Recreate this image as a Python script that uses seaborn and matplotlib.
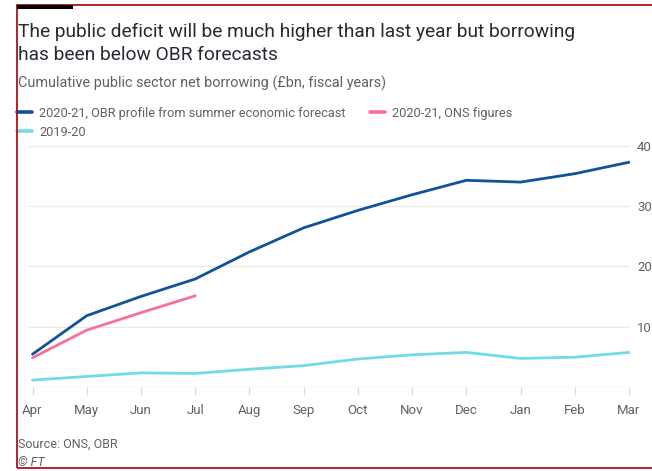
import numpy as np
import pandas as pd
import matplotlib.pyplot as plt
import seaborn as sns
from matplotlib.patches import Rectangle

# data (£bn, cumulative)
months = ["Apr", "May", "Jun", "Jul", "Aug", "Sep", "Oct", "Nov", "Dec", "Jan", "Feb", "Mar"]
obr_2020 = [5.4, 11.8, 15.0, 17.9, 22.4, 26.4, 29.3, 31.9, 34.3, 34.0, 35.4, 37.3]
ons_2020 = [4.8, 9.4, 12.3, 15.1]
fy_2019 = [1.1, 1.7, 2.3, 2.2, 2.9, 3.5, 4.6, 5.3, 5.7, 4.7, 4.9, 5.7]

yticks = [10, 20, 30, 40]

blue = "#0f5499"
pink = "#f7709a"
cyan = "#6fdbe6"
grey = "#66605c"
dark = "#262a33"

sns.set_theme(style="white")
plt.rcParams["font.family"] = ["Roboto", "DejaVu Sans"]

W, H = 652, 471
fig = plt.figure(figsize=(W / 100, H / 100), dpi=100)
fig.patch.set_facecolor("white")

# axes placed in pixels
x0, x1, y0, y1 = 28, 630, 386.7, 146
ax = fig.add_axes([x0 / W, 1 - y0 / H, (x1 - x0) / W, (y0 - y1) / H])

pos = np.arange(len(months))
df = pd.DataFrame({"pos": pos, "obr": obr_2020, "fy19": fy_2019})
df_ons = pd.DataFrame({"pos": pos[:len(ons_2020)], "ons": ons_2020})

# gridlines first so lines sit on top
for v in yticks:
    ax.axhline(v, color="#efe9e4", lw=0.9, zorder=0)
ax.axhline(0, color="#dedad6", lw=1.0, zorder=1)

sns.lineplot(data=df, x="pos", y="fy19", color=cyan, lw=2.0, ax=ax,
             label="2019-20", zorder=3)
sns.lineplot(data=df, x="pos", y="obr", color=blue, lw=2.0, ax=ax,
             label="2020-21, OBR profile from summer economic forecast", zorder=4)
sns.lineplot(data=df_ons, x="pos", y="ons", color=pink, lw=2.0, ax=ax,
             label="2020-21, ONS figures", zorder=5)

ax.set_xlim(-0.083, 11.018)
ax.set_ylim(0, 40)
for s in ax.spines.values():
    s.set_visible(False)
ax.set_xlabel("")
ax.set_ylabel("")

ax.set_xticks(pos)
ax.set_xticklabels(months)
ax.set_yticks(yticks)
ax.yaxis.tick_right()
ax.tick_params(axis="y", length=0, pad=5, labelsize=9.5, labelcolor=grey)
ax.tick_params(axis="x", bottom=True, length=6, width=0.9, color="#dedad6",
               pad=6.5, labelsize=9.5, labelcolor=grey)

# legend: OBR, 2019-20 in first column, ONS in second
h, l = ax.get_legend_handles_labels()
order = [1, 0, 2]
leg = ax.legend([h[i] for i in order], [l[i] for i in order], ncol=2,
                loc="upper left", bbox_to_anchor=(17 / W, 1 - 106.5 / H),
                bbox_transform=fig.transFigure, frameon=False, borderpad=0,
                borderaxespad=0, fontsize=9.2, handlelength=1.15,
                handletextpad=0.6, columnspacing=1.9, labelspacing=0.5)
for t in leg.get_texts():
    t.set_color(grey)
for ln in leg.get_lines():
    ln.set_linewidth(2.6)

# titles and footer
fig.text(18 / W, 1 - 37 / H, "The public deficit will be much higher than last year but borrowing",
         fontsize=13.8, color=dark, va="baseline")
fig.text(18 / W, 1 - 60 / H, "has been below OBR forecasts",
         fontsize=13.8, color=dark, va="baseline")
fig.text(18 / W, 1 - 87.5 / H, "Cumulative public sector net borrowing (£bn, fiscal years)",
         fontsize=10.4, color=grey, va="baseline")
fig.text(18 / W, 1 - 448 / H, "Source: ONS, OBR", fontsize=9, color=grey, va="baseline")
fig.text(18 / W, 1 - 465.5 / H, "© FT", fontsize=9, color=grey, va="baseline",
         style="italic")

# red frame and black tab of the screenshot
fig.add_artist(Rectangle((17 / W, 1 - 468 / H), 700 / W, (468 - 5) / H,
                         transform=fig.transFigure, fill=False,
                         edgecolor="#a8141c", lw=1.3, clip_on=False))
fig.add_artist(Rectangle((17 / W, 1 - 8.5 / H), (73 - 17) / W, 3.5 / H,
                         transform=fig.transFigure, facecolor="black",
                         edgecolor="none"))

fig.savefig("out.png", dpi=100)
